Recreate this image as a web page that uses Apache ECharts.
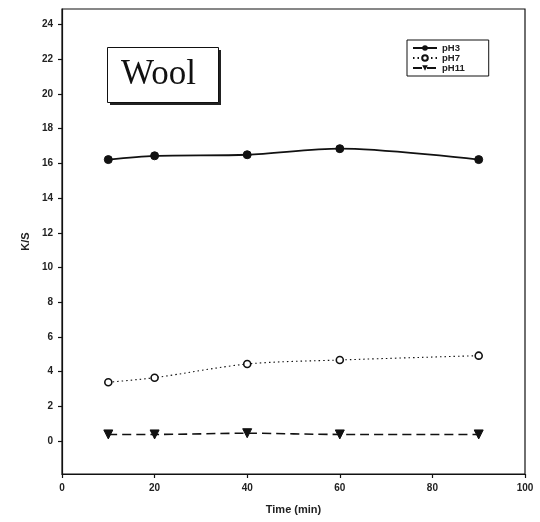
<!DOCTYPE html>
<html>
<head>
<meta charset="utf-8">
<script src="https://cdn.jsdelivr.net/npm/echarts@6/dist/echarts.min.js"></script>
<style>
html,body{margin:0;padding:0;background:#fff;}
#chart{width:540px;height:522px;}
</style>
</head>
<body>
<div id="chart"></div>
<script>
var times = [10, 20, 40, 60, 90];
var pH3 = [16.22, 16.44, 16.5, 16.85, 16.22];
var pH7 = [3.39, 3.65, 4.44, 4.67, 4.92];
var pH11 = [0.38, 0.38, 0.45, 0.38, 0.38];
var seriesNames = ['pH3', 'pH7', 'pH11'];
var xTicks = [0, 20, 40, 60, 80, 100];
var yTicks = [0, 2, 4, 6, 8, 10, 12, 14, 16, 18, 20, 22, 24];

function pairs(ys) { return times.map(function (t, i) { return [t, ys[i]]; }); }

var font = 'Liberation Sans';
var chart = echarts.init(document.getElementById('chart'), null, {renderer: 'canvas'});
chart.setOption({
  animation: false,
  backgroundColor: '#fff',
  grid: {left: 62, right: 15, top: 9, height: 465, show: true, borderColor: '#111', borderWidth: 1.2, backgroundColor: 'transparent'},
  xAxis: {
    type: 'value', min: 0, max: 100,
    name: 'Time (min)', nameLocation: 'middle', nameGap: 30,
    nameTextStyle: {fontFamily: font, fontSize: 11, fontWeight: 'bold', color: '#222'},
    axisLine: {show: true, onZero: false, lineStyle: {color: '#111', width: 1.2}},
    axisTick: {show: true, inside: false, length: 4, customValues: xTicks, lineStyle: {color: '#111', width: 1.2}},
    axisLabel: {fontFamily: font, fontSize: 10, fontWeight: 'bold', color: '#222', margin: 9, customValues: xTicks},
    splitLine: {show: false}
  },
  yAxis: {
    type: 'value', min: -1.9, max: 24.9,
    name: 'K/S', nameLocation: 'middle', nameGap: 30, nameRotate: 90,
    nameTextStyle: {fontFamily: font, fontSize: 11, fontWeight: 'bold', color: '#222'},
    axisLine: {show: true, onZero: false, lineStyle: {color: '#111', width: 1.2}},
    axisTick: {show: true, inside: false, length: 4, customValues: yTicks, lineStyle: {color: '#111', width: 1.2}},
    axisLabel: {fontFamily: font, fontSize: 10, fontWeight: 'bold', color: '#222', margin: 9, customValues: yTicks},
    splitLine: {show: false}
  },
  legend: {
    orient: 'vertical', left: 407, top: 40,
    data: seriesNames,
    borderColor: '#111', borderWidth: 1, padding: [3, 24, 3, 5],
    itemWidth: 24, itemHeight: 7, itemGap: 0,
    textStyle: {fontFamily: font, fontSize: 9.5, fontWeight: 'bold', color: '#222'}
  },
  graphic: [
    {type: 'rect', left: 110, top: 50, shape: {width: 111, height: 55}, style: {fill: '#222'}, z: 10},
    {type: 'rect', left: 107, top: 47, shape: {width: 111, height: 55}, style: {fill: '#fff', stroke: '#111', lineWidth: 1}, z: 11},
    {type: 'text', left: 121, top: 57, style: {text: 'Wool', font: '35px "Liberation Serif"', fill: '#111'}, z: 12}
  ],
  series: [
    {name: 'pH3', type: 'line', data: pairs(pH3), smooth: 0.3,
      symbol: 'circle', symbolSize: 8,
      itemStyle: {color: '#111', borderColor: '#111'},
      lineStyle: {color: '#111', width: 1.8, type: 'solid'}},
    {name: 'pH7', type: 'line', data: pairs(pH7), smooth: 0.3,
      symbol: 'circle', symbolSize: 7,
      itemStyle: {color: '#fff', borderColor: '#111', borderWidth: 1.6},
      lineStyle: {color: '#111', width: 1.1, type: [1.5, 3]}},
    {name: 'pH11', type: 'line', data: pairs(pH11), smooth: 0.3,
      symbol: 'triangle', symbolRotate: 180, symbolSize: 9,
      itemStyle: {color: '#111', borderColor: '#111'},
      lineStyle: {color: '#111', width: 1.6, type: [9, 5]}}
  ]
});
</script>
</body>
</html>
